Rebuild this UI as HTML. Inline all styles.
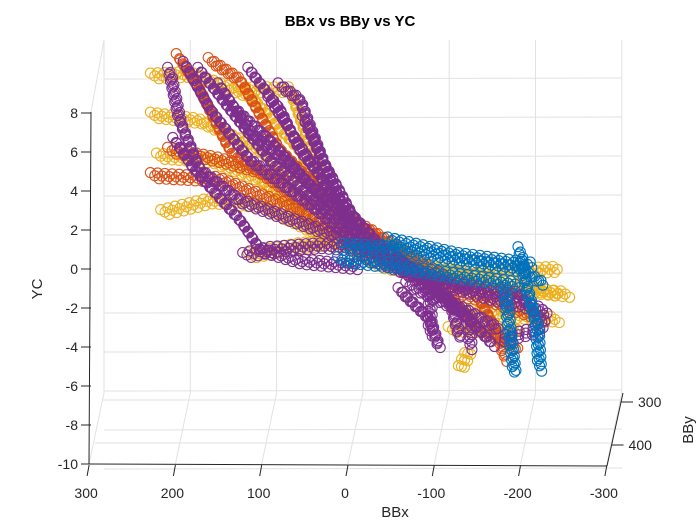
<!DOCTYPE html>
<html><head><meta charset="utf-8"><style>
html,body{margin:0;padding:0;background:#fff;}
svg{display:block;font-family:"Liberation Sans",Arial,sans-serif;}
</style></head><body>
<svg id="chart" width="700" height="525" viewBox="0 0 700 525" xmlns="http://www.w3.org/2000/svg">
<rect width="700" height="525" fill="#fff"/>
<g id="grid"></g>
<g id="marks"></g>
<g id="axes"></g>
<text x="350" y="26" text-anchor="middle" font-size="15" font-weight="bold" fill="#000">BBx vs BBy vs YC</text>
<text x="0" y="0" transform="translate(42,289) rotate(-90)" text-anchor="middle" font-size="15" fill="#262626">YC</text>
<text x="395" y="517" text-anchor="middle" font-size="15" fill="#262626">BBx</text>
<text x="0" y="0" transform="translate(693,430) rotate(-90)" text-anchor="middle" font-size="15" fill="#262626">BBy</text>
</svg>
<script>
const xTicks = [300, 200, 100, 0, -100, -200, -300];
const zTicks = [8, 6, 4, 2, 0, -2, -4, -6, -8, -10];
const yTicks = [300, 400];
const seriesNames = ['yellow', 'orange', 'purple', 'blue'];
const seriesColors = ['#EDB120', '#D95319', '#7E2F8E', '#0072BD'];
const yellowStrands = [
 [[236,10.2],[192,10.3],[123,9.2],[65,6.4],[7,1.8],[-97,0],[-236,0.3]],
 [[236,8.2],[181,7.9],[111,6.4],[30,3.1],[-51,0.8],[-236,-1.0]],
 [[229,6.1],[169,5.9],[111,4.9],[42,2.3],[-28,0.5],[-132,-0.5],[-248,-1.0]],
 [[224,3.2],[169,3.8],[111,3.6],[30,1.8],[-74,0.3]],
 [[134,9.5],[76,9.5],[30,3.8],[-16,1.5]],
 [[123,1.0],[65,1.5],[7,1.8]],
 [[-121,-1.8],[-190,-2.1],[-236,-2.3]],
 [[-109,-2.8],[-190,-2.8]],
 [[-121,-4.8],[-132,-3.8]]
];
const orangeStrands = [
 [[206,11.2],[181,9.5],[146,6.4],[65,3.8],[-16,2.3],[-109,-0.3],[-202,-1.3]],
 [[236,5.1],[158,4.9],[65,3.3],[7,1.8]],
 [[169,11.0],[134,10.0],[88,6.4],[19,3.3],[-74,0.3],[-144,-2.8],[-190,-3.8]],
 [[216,6.4],[158,5.9],[76,4.9]],
 [[-97,-0.8],[-155,-1.3],[-219,-2.3]],
 [[-144,-1.3],[-167,-3.3],[-173,-4.4]]
];
const purpleStrands = [
 [[216,10.5],[204,7.9],[181,5.4],[134,3.8],[42,2.3],[-28,1.3]],
 [[198,10.8],[169,8.5],[123,5.9],[53,3.6],[-5,1.5],[-86,-0.3],[-86,-3.1]],
 [[181,10.5],[146,8.5],[100,5.9],[30,3.1],[-51,0.8],[-132,-2.3],[-132,-3.8]],
 [[123,10.5],[88,8.5],[65,6.4],[19,3.8],[-28,1.5],[-109,-1.3],[-121,-3.3]],
 [[88,9.7],[65,9.0],[30,4.9],[-5,1.8],[-86,-0.8],[-167,-2.8]],
 [[210,6.9],[187,5.4],[134,2.8],[111,1.3],[65,0.7],[-5,0.4]],
 [[129,1.0],[100,1.3],[42,1.5],[-16,1.3]],
 [[-5,1.0],[-86,-0.3],[-167,-1.3],[-219,-1.8],[-213,-2.8],[-167,-3.3]],
 [[-51,-0.8],[-86,-2.3],[-97,-3.8]],
 [[100,9.0],[76,7.4],[42,5.1],[7,2.6]],
 [[158,9.7],[120,7.2],[76,5.6],[30,3.6]],
 [[140,8.5],[100,6.9],[53,4.6],[7,2.8]],
 [[60,8.0],[40,6.0],[19,4.3],[-5,2.3]],
 [[-28,1.0],[-109,-0.5],[-190,-1.0],[-207,-2.0]],
 [[-60,-0.5],[-120,-1.8],[-160,-3.6]]
];
const blueStrands = [
 [[13,1.5],[-51,1.3],[-109,0.8],[-190,0.3],[-219,-0.5]],
 [[19,0.8],[-39,0.5],[-109,0],[-190,-0.5]],
 [[-190,1.3],[-196,-0.3],[-202,-1.3],[-210,-2.6],[-213,-4.9]],
 [[-173,-0.8],[-178,-2.8],[-184,-5.1]],
 [[-39,1.8],[-121,1.0],[-207,0.5]]
];
const allStrands = [yellowStrands, orangeStrands, purpleStrands, blueStrands];

function xFront(b){ return 348 - b*0.863; }
function zFront(c){ return 269 - c*19.5; }
function xData(b){ return 356 - b*0.863; }
function zData(c){ return 275 - c*19.5; }
function yDepth(v){ return 400 + (v-300)*0.43; }

const NS='http://www.w3.org/2000/svg';
function mk(tag, attrs, parent){ const e=document.createElementNS(NS,tag); for(const k in attrs) e.setAttribute(k,attrs[k]); parent.appendChild(e); return e; }
const grid=document.getElementById('grid'), axes=document.getElementById('axes'), marks=document.getElementById('marks');
const gc='#e2e2e2';
zTicks.concat([10]).forEach(function(c){
  const y = 274 - c*19.5;
  const l=mk('line',{x1:104,y1:y,x2:622,y2:y-1,stroke:gc,'stroke-width':1},grid);
  
  
});
xTicks.forEach(function(b,i){
  const xb = 104 + i*86.3, xf = xFront(b);
  const l=mk('line',{x1:xb,y1:40,x2:xb,y2:393,stroke:gc,'stroke-width':1},grid);
  
  
  const f=mk('line',{x1:xb,y1:393,x2:xf,y2:464,stroke:gc,'stroke-width':1},grid);
  
  
});
yTicks.forEach(function(v){
  const y=yDepth(v);
  const f=mk('line',{x1:104-(y-393)*0.18,y1:y,x2:622-(y-393)*0.2,y2:y,stroke:gc,'stroke-width':1},grid);
  
  
});
const le=mk('line',{x1:104,y1:40,x2:91,y2:112,stroke:gc,'stroke-width':1},grid);



allStrands.forEach(function(strands,si){
  const g=mk('g',{fill:'none',stroke:seriesColors[si],'stroke-width':1.1},marks);
  
  
  strands.forEach(function(s){
    let cnt=0;
    for(let k=0;k<s.length-1;k++){
      const x1=xData(s[k][0]), y1=zData(s[k][1]), x2=xData(s[k+1][0]), y2=zData(s[k+1][1]);
      const d=Math.hypot(x2-x1,y2-y1), n=Math.max(1,Math.round(d/2.4));
      for(let j=0;j<n;j++){
        const t=j/n, x=x1+(x2-x1)*t, y=y1+(y2-y1)*t;
        const o=(cnt%3)-1; cnt++;
        const c=mk('circle',{cx:x+o*2,cy:y+o*3,r:5},g);
        
        
      }
    }
  });
});

const ac='#262626';
const zl=mk('line',{x1:91,y1:112,x2:89,y2:464,stroke:ac,'stroke-width':1},axes);


const xl=mk('line',{x1:89,y1:464,x2:607,y2:466,stroke:ac,'stroke-width':1},axes);


const yl=mk('line',{x1:623,y1:393,x2:607,y2:466,stroke:ac,'stroke-width':1},axes);


zTicks.forEach(function(c){
  const y=zFront(c);
  const t=mk('line',{x1:81,y1:y,x2:91,y2:y,stroke:ac},axes);
  
  
  const tx=mk('text',{x:78,y:y+5,'text-anchor':'end','font-size':14,fill:ac},axes);
  tx.textContent=c;
  
  
});
xTicks.forEach(function(b){
  const x=xFront(b);
  const t=mk('line',{x1:x,y1:465,x2:x-2,y2:476,stroke:ac},axes);
  
  
  const tx=mk('text',{x:x-3,y:498,'text-anchor':'middle','font-size':14,fill:ac},axes);
  tx.textContent=b;
  
  
});
yTicks.forEach(function(v){
  const y=yDepth(v)+2, x=623-(y-393)*0.22;
  const t=mk('line',{x1:x,y1:y,x2:x+12,y2:y,stroke:ac},axes);
  
  
  const tx=mk('text',{x:x+17,y:y+5,'font-size':14,fill:ac},axes);
  tx.textContent=v;
  
  
});
</script>
</body></html>
